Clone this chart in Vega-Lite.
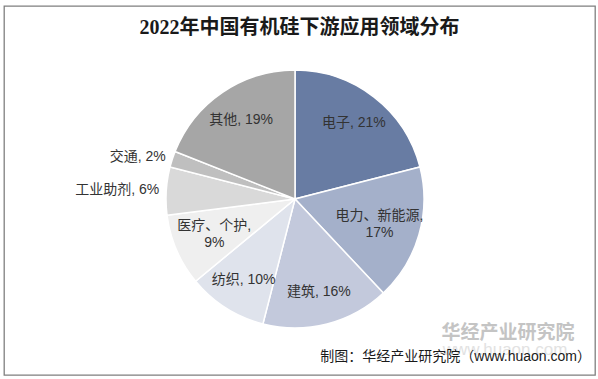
{
  "$schema": "https://vega.github.io/schema/vega-lite/v6.json",
  "width": 591,
  "height": 369,
  "autosize": "none",
  "padding": {"left": 4, "top": 6, "right": 3, "bottom": 4},
  "background": "white",
  "view": {"stroke": "#7f7f7f", "strokeWidth": 1.3, "fill": "white"},
  "config": {"view": {"stroke": "#7f7f7f", "strokeWidth": 1.3}},
  "title": {
    "text": "2022年中国有机硅下游应用领域分布",
    "font": "Liberation Serif, Noto Sans CJK SC",
    "fontSize": 20,
    "fontWeight": "bold",
    "color": "#1a1a1a",
    "anchor": "middle",
    "baseline": "middle",
    "offset": -42
  },
  "layer": [
    {
      "data": {"name": "pie", "values": [
        {"cat": "电子", "value": 21, "ord": 1, "label": "电子, 21%"},
        {"cat": "电力、新能源", "value": 17, "ord": 2, "label": "电力、新能源,\n17%"},
        {"cat": "建筑", "value": 16, "ord": 3, "label": "建筑, 16%"},
        {"cat": "纺织", "value": 10, "ord": 4, "label": "纺织, 10%"},
        {"cat": "医疗、个护", "value": 9, "ord": 5, "label": "医疗、个护,\n9%"},
        {"cat": "工业助剂", "value": 6, "ord": 6, "label": "工业助剂, 6%"},
        {"cat": "交通", "value": 2, "ord": 7, "label": "交通, 2%"},
        {"cat": "其他", "value": 19, "ord": 8, "label": "其他, 19%"}
      ]},
      "layer": [
        {
          "mark": {"type": "arc", "radius": 129, "stroke": "white", "strokeWidth": 1.5,
                   "x": {"expr": "width/2 - 4.5"}, "y": {"expr": "height/2 + 8.5"}},
          "encoding": {
            "theta": {"field": "value", "type": "quantitative", "stack": true},
            "order": {"field": "ord", "type": "quantitative"},
            "color": {"field": "cat", "type": "nominal", "legend": null,
              "scale": {"domain": ["电子", "电力、新能源", "建筑", "纺织", "医疗、个护", "工业助剂", "交通", "其他"],
                        "range": ["#687ca3", "#a4b0ca", "#c3c9dc", "#dfe3ec", "#efefef", "#d9d9d9", "#bfbfbf", "#a6a6a6"]}}
          }
        },
        {
          "mark": {"type": "text", "radius": 96, "font": "Liberation Sans, Noto Sans CJK SC",
                   "fontSize": 14, "color": "#333333", "align": "center", "baseline": "middle",
                   "x": {"expr": "width/2 - 4.5"}, "y": {"expr": "height/2 + 8.5"}},
          "encoding": {
            "theta": {"field": "value", "type": "quantitative", "stack": true},
            "order": {"field": "ord", "type": "quantitative"},
            "text": {"condition": {"test": "datum.value >= 8 && indexof(datum.label, '\\n') < 0", "field": "label"}, "value": ""}
          }
        },
        {
          "mark": {"type": "text", "radius": 88, "lineBreak": "\n", "font": "Liberation Sans, Noto Sans CJK SC",
                   "fontSize": 14, "color": "#333333", "align": "center", "baseline": "middle", "lineHeight": 17, "dy": -8,
                   "x": {"expr": "width/2 - 4.5"}, "y": {"expr": "height/2 + 8.5"}},
          "encoding": {
            "theta": {"field": "value", "type": "quantitative", "stack": true},
            "order": {"field": "ord", "type": "quantitative"},
            "text": {"condition": {"test": "datum.value >= 8 && indexof(datum.label, '\\n') >= 0", "field": "label"}, "value": ""}
          }
        },
        {
          "mark": {"type": "text", "radius": 136, "font": "Liberation Sans, Noto Sans CJK SC",
                   "fontSize": 14, "color": "#333333", "align": "right", "baseline": "middle",
                   "x": {"expr": "width/2 - 4.5"}, "y": {"expr": "height/2 + 8.5"}},
          "encoding": {
            "theta": {"field": "value", "type": "quantitative", "stack": true},
            "order": {"field": "ord", "type": "quantitative"},
            "text": {"condition": {"test": "datum.value < 8", "field": "label"}, "value": ""}
          }
        }
      ]
    },
    {
      "data": {"values": [{"t": "华经产业研究院"}]},
      "mark": {"type": "text", "font": "Noto Sans CJK SC", "fontSize": 19, "fontWeight": "bold",
               "color": "#c4c4c4", "align": "center", "baseline": "middle",
               "x": {"expr": "width - 87"}, "y": {"expr": "height - 42"}},
      "encoding": {"text": {"field": "t"}}
    },
    {
      "data": {"values": [{"t": "www.huaon.com"}]},
      "mark": {"type": "text", "font": "Liberation Sans", "fontSize": 17,
               "color": "#e2e2e2", "align": "center", "baseline": "middle",
               "x": {"expr": "width - 90"}, "y": {"expr": "height - 25"}},
      "encoding": {"text": {"field": "t"}}
    },
    {
      "data": {"values": [{"t": "制图：华经产业研究院（www.huaon.com）"}]},
      "mark": {"type": "text", "font": "Liberation Sans, Noto Sans CJK SC", "fontSize": 14,
               "color": "#1a1a1a", "align": "right", "baseline": "middle",
               "x": {"expr": "width - 4"}, "y": {"expr": "height - 18"}},
      "encoding": {"text": {"field": "t"}}
    }
  ]
}
